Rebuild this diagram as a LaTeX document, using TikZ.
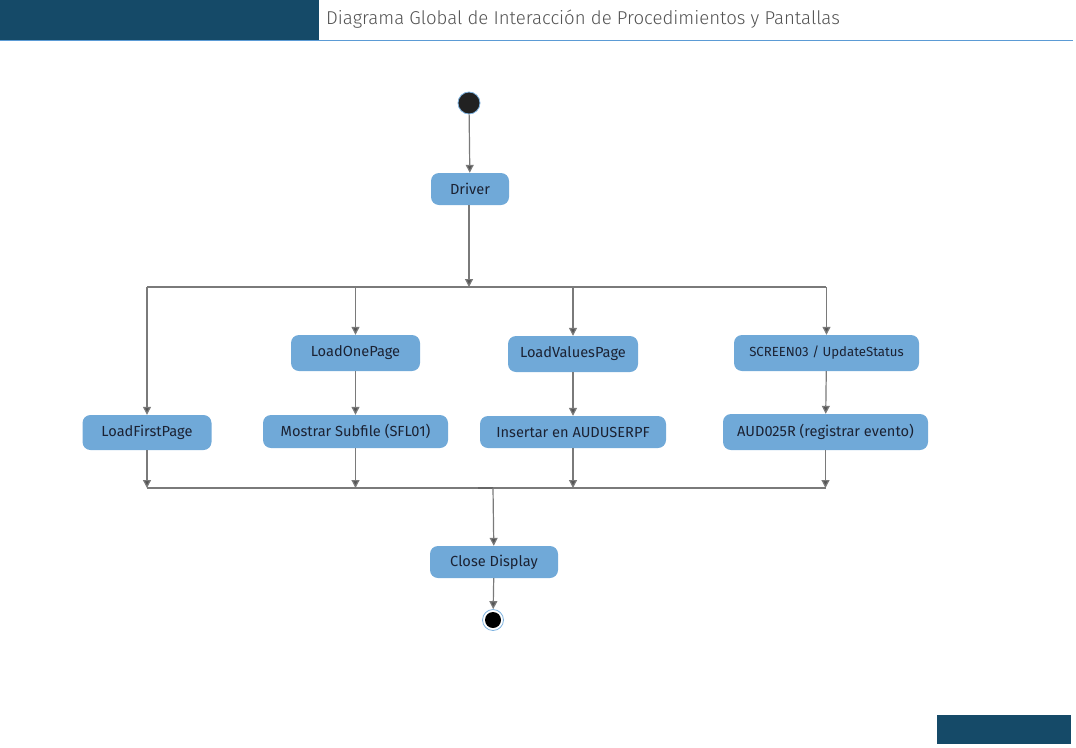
\documentclass[tikz,border=0pt]{standalone}
\usepackage{fontspec}
\setmainfont{Fira Sans}
\newfontfamily\titlefont{Fira Sans Light}
\usetikzlibrary{arrows.meta}
\definecolor{hdr}{HTML}{154A68}
\definecolor{rule}{HTML}{5B9BD5}
\definecolor{boxfill}{HTML}{70A9D8}
\definecolor{boxtext}{HTML}{1B2233}
\definecolor{conn}{HTML}{7A7A7A}
\definecolor{tip}{HTML}{555555}
\definecolor{ring}{HTML}{7FB3E0}
\tikzset{
  act/.style={rounded corners=8pt, fill=boxfill, draw=none, text=boxtext,
    font=\fontsize{14.6pt}{16pt}\selectfont, inner sep=0pt, minimum height=34pt},
  conline/.style={draw=conn, line width=1.2pt},
  arr/.style={conline, -{Triangle[width=8pt,length=8pt,fill=tip]}},
}
\begin{document}
\begin{tikzpicture}[x=1pt,y=-1pt]
\useasboundingbox (0,0) rectangle (1076,747);
% header
\fill[hdr] (0,0) rectangle (319,40);
\draw[rule, line width=1.2pt] (0,40.5) -- (1073,40.5);
\node[anchor=west, text=black!68, font=\titlefont\fontsize{18.6pt}{20pt}\selectfont, inner sep=0pt] (title) at (326,19.5) {Diagrama Global de Interacción de Procedimientos y Pantallas};
% footer
\fill[hdr] (937,715) rectangle (1071,744);

% start
\node[circle, fill=black!87, draw=ring, line width=0.8pt, minimum size=22pt, inner sep=0pt] (start) at (469,103) {};
% nodes
\node[act, minimum width=78pt, minimum height=32pt] (driver) at (470,189) {Driver};
\node[act, minimum width=129pt, minimum height=35pt] (lfp) at (147,432.5) {LoadFirstPage};
\node[act, minimum width=129pt, minimum height=36pt] (lop) at (355.5,353) {LoadOnePage};
\node[act, minimum width=185pt, minimum height=33pt] (msf) at (355.5,431.5) {Mostrar Subfile (SFL01)};
\node[act, minimum width=130pt, minimum height=36pt] (lvp) at (573,354) {LoadValuesPage};
\node[act, minimum width=186pt, minimum height=32pt] (ins) at (573,432) {Insertar en AUDUSERPF};
\node[act, minimum width=185pt, minimum height=36pt, font=\fontsize{13.2pt}{15pt}\selectfont] (scr) at (826.5,353) {SCREEN03 / UpdateStatus};
\node[act, minimum width=205pt, minimum height=36pt] (aud) at (825.5,432) {AUD025R (registrar evento)};
\node[act, minimum width=128pt, minimum height=32pt] (close) at (494,562) {Close Display};
% end
\node[circle, fill=white, draw=ring, line width=0.8pt, minimum size=21pt, inner sep=0pt] (end) at (493,620) {};
\node[circle, fill=black, minimum size=16pt, inner sep=0pt] (endin) at (end) {};

% fork
\coordinate (s) at (469,287);
\coordinate (sl) at (147,287);
\coordinate (sr) at (826,287);
\draw[arr] (start) -- (driver);
\draw[arr] (driver.south -| s) -- (s);
\draw[conline] (sl) -- (sr);
\draw[arr] (sl) -- (lfp);
\draw[arr] (lop.north |- s) -- (lop);
\draw[arr] (lvp.north |- s) -- (lvp);
\draw[arr] (scr.north |- s) -- (scr);
\draw[arr] (lop) -- (msf);
\draw[arr] (lvp) -- (ins);
\draw[arr] (scr) -- (aud);

% join
\coordinate (j) at (493,488);
\coordinate (jl) at (147,488);
\coordinate (jr) at (826,488);
\draw[conline] (jl) -- (jr);
\draw[draw=black!60, line width=1.6pt] (478,488) -- (j);
\draw[arr] (lfp) -- (lfp |- j);
\draw[arr] (msf) -- (msf |- j);
\draw[arr] (ins) -- (ins |- j);
\draw[arr] (aud) -- (aud |- j);
\draw[arr] (j) -- (close);
\draw[arr] (close) -- (end);
\end{tikzpicture}
\end{document}
